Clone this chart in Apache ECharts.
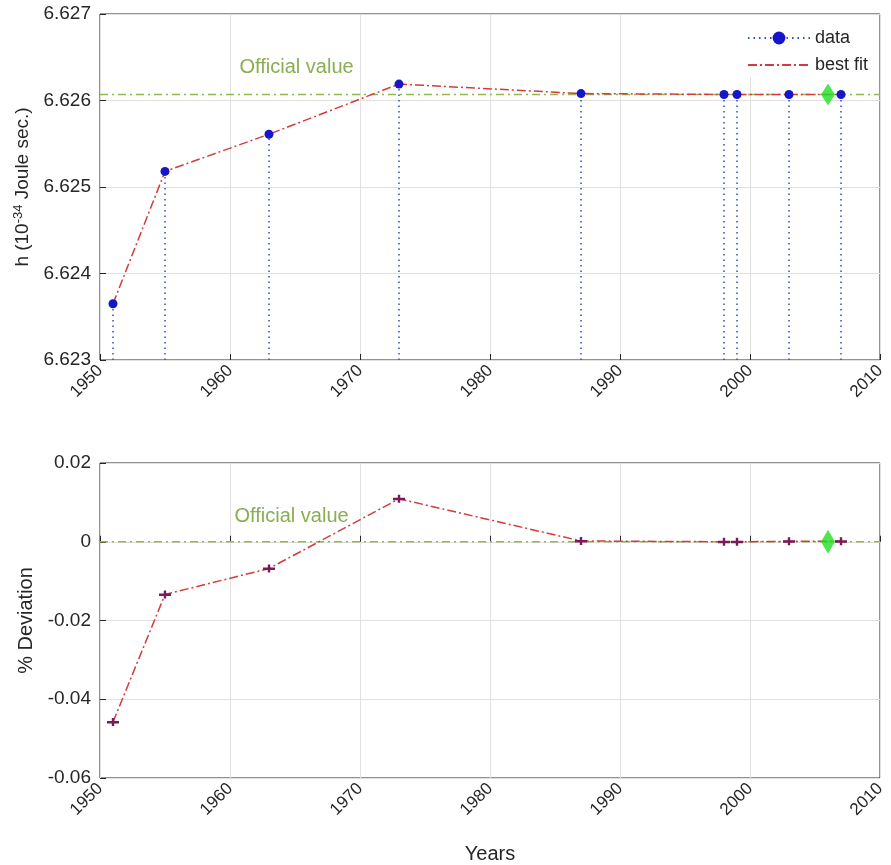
<!DOCTYPE html>
<html>
<head>
<meta charset="utf-8">
<script src="https://cdn.jsdelivr.net/npm/echarts@6/dist/echarts.min.js"></script>
<style>html,body{margin:0;padding:0;background:#fff}#c{width:891px;height:865px}</style>
</head>
<body>
<div id="c"></div>
<script>
const years = [1951, 1955, 1963, 1973, 1987, 1998, 1999, 2003, 2007];
const hValues = [6.62365, 6.62518, 6.62561, 6.62619, 6.62608, 6.62607, 6.62607, 6.62607, 6.62607];
const deviation = [-0.0458, -0.0134, -0.0068, 0.0109, 0.0002, 0.0000, 0.0000, 0.0001, 0.0001];
const officialYear = 2006;
const officialH = 6.62607;
const officialDev = 0;
const hMin = 6.623, hMax = 6.627, hStep = 0.001;
const devMin = -0.06, devMax = 0.02, devStep = 0.02;
const yearMin = 1950, yearMax = 2010, yearStep = 10;

const stems = [];
years.forEach((y, i) => { stems.push([y, hMin]); stems.push([y, hValues[i]]); stems.push([y, '-']); });
const fitTop = years.map((y, i) => [y, hValues[i]]);
const fitBottom = years.map((y, i) => [y, deviation[i]]);
const officialTopLine = [[yearMin, officialH], [yearMax, officialH]];
const officialBottomLine = [[yearMin, officialDev], [yearMax, officialDev]];

const txt = '#262626';
const font = 'Liberation Sans, Arial, sans-serif';
const gridLine = { show: true, lineStyle: { color: '#e0e0e0', width: 1 } };
const xAxisBase = (idx, withName) => ({
  type: 'value', gridIndex: idx, min: yearMin, max: yearMax, interval: yearStep,
  axisLine: { show: false }, axisTick: { inside: true, length: 6, lineStyle: { color: txt } },
  axisLabel: { rotate: 45, fontSize: 17, color: txt, fontFamily: font, margin: 8, formatter: v => String(v) },
  splitLine: gridLine,
  name: withName ? 'Years' : '', nameLocation: 'middle', nameGap: 66,
  nameTextStyle: { fontSize: 20, color: txt, fontFamily: font }
});
const greenLine = { color: '#93b84c', width: 1.5, type: [8, 4, 2, 4] };
const officialSeries = (name, axisIdx, data, labelPos) => ({
  name: name, type: 'line', xAxisIndex: axisIdx, yAxisIndex: axisIdx, data: data,
  symbol: 'circle', symbolSize: 1, showSymbol: true, itemStyle: { color: 'rgba(0,0,0,0)' }, lineStyle: greenLine, z: 2, silent: true,
  labelLayout: { hideOverlap: false },
  label: {
    show: true, position: labelPos,
    formatter: p => (p.dataIndex === 0 ? 'Official value' : ''),
    color: '#8aae52', fontSize: 20, fontFamily: font
  }
});

const option = {
  animation: false,
  backgroundColor: '#fff',
  grid: [
    { left: 100, right: 11, top: 14, height: 346, show: true, borderColor: txt, borderWidth: 1, backgroundColor: 'transparent' },
    { left: 100, right: 11, top: 463, height: 315, show: true, borderColor: txt, borderWidth: 1, backgroundColor: 'transparent' }
  ],
  legend: {
    data: [{ name: 'data' }, { name: 'best fit', itemStyle: { opacity: 0 } }],
    orient: 'vertical', left: 742, top: 15,
    itemWidth: 62, itemHeight: 16, itemGap: 9, backgroundColor: '#fff', padding: [14, 5, 3, 5],
    textStyle: { fontSize: 18, color: txt, fontFamily: font }
  },
  xAxis: [xAxisBase(0, false), xAxisBase(1, true)],
  yAxis: [
    {
      type: 'value', gridIndex: 0, min: hMin, max: hMax, interval: hStep,
      axisLine: { show: false }, axisTick: { show: true, inside: true, length: 6, lineStyle: { color: txt } },
      axisLabel: { fontSize: 19, color: txt, fontFamily: font, margin: 9, formatter: v => v.toFixed(3) },
      splitLine: gridLine,
      name: 'h (10{sup|-34} Joule sec.)', nameLocation: 'middle', nameGap: 60, nameRotate: 90,
      nameTextStyle: { fontSize: 19, color: txt, fontFamily: font, rich: { sup: { fontSize: 13, color: txt, fontFamily: font, padding: [0, 0, 10, 0] } } }
    },
    {
      type: 'value', gridIndex: 1, min: devMin, max: devMax, interval: devStep,
      axisLine: { show: false }, axisTick: { show: true, inside: true, length: 6, lineStyle: { color: txt } },
      axisLabel: { fontSize: 19, color: txt, fontFamily: font, margin: 9, formatter: v => String(Number(v.toFixed(2))) },
      splitLine: gridLine,
      name: '% Deviation', nameLocation: 'middle', nameGap: 53, nameRotate: 90,
      nameTextStyle: { fontSize: 20, color: txt, fontFamily: font }
    }
  ],
  series: [
    officialSeries('official line', 0, officialTopLine, [140, -36]),
    officialSeries('official line 2', 1, officialBottomLine, [135, -35]),
    {
      name: 'best fit', type: 'line', xAxisIndex: 0, yAxisIndex: 0, data: fitTop, symbol: 'none',
      lineStyle: { color: '#d23c3c', width: 1.5, type: [9, 3, 2, 3] }, itemStyle: { color: '#d23c3c' }, z: 3
    },
    {
      name: 'data', type: 'line', xAxisIndex: 0, yAxisIndex: 0, data: stems, connectNulls: false,
      symbol: 'circle', symbolSize: v => (v[1] === hMin ? 0 : 9),
      lineStyle: { color: '#2a4fc4', width: 1.5, type: [1.5, 4] }, itemStyle: { color: '#1616c8' }, z: 4
    },
    {
      name: 'official', type: 'scatter', xAxisIndex: 0, yAxisIndex: 0, data: [[officialYear, officialH]],
      symbol: 'diamond', symbolSize: [14, 22], itemStyle: { color: '#22e022' }, z: 5
    },
    {
      name: 'deviation', type: 'line', xAxisIndex: 1, yAxisIndex: 1, data: fitBottom,
      symbol: 'path://M0,3h12v2.5h-12z M4.8,0h2.4v8h-2.4z', symbolSize: [12, 8], showSymbol: true,
      lineStyle: { color: '#d23c3c', width: 1.5, type: [9, 3, 2, 3] }, itemStyle: { color: '#7a1a5a' }, z: 3
    },
    {
      name: 'official2', type: 'scatter', xAxisIndex: 1, yAxisIndex: 1, data: [[officialYear, officialDev]],
      symbol: 'diamond', symbolSize: [14, 24], itemStyle: { color: '#22e022' }, z: 5
    }
  ]
};
echarts.init(document.getElementById('c')).setOption(option);
</script>
</body>
</html>
